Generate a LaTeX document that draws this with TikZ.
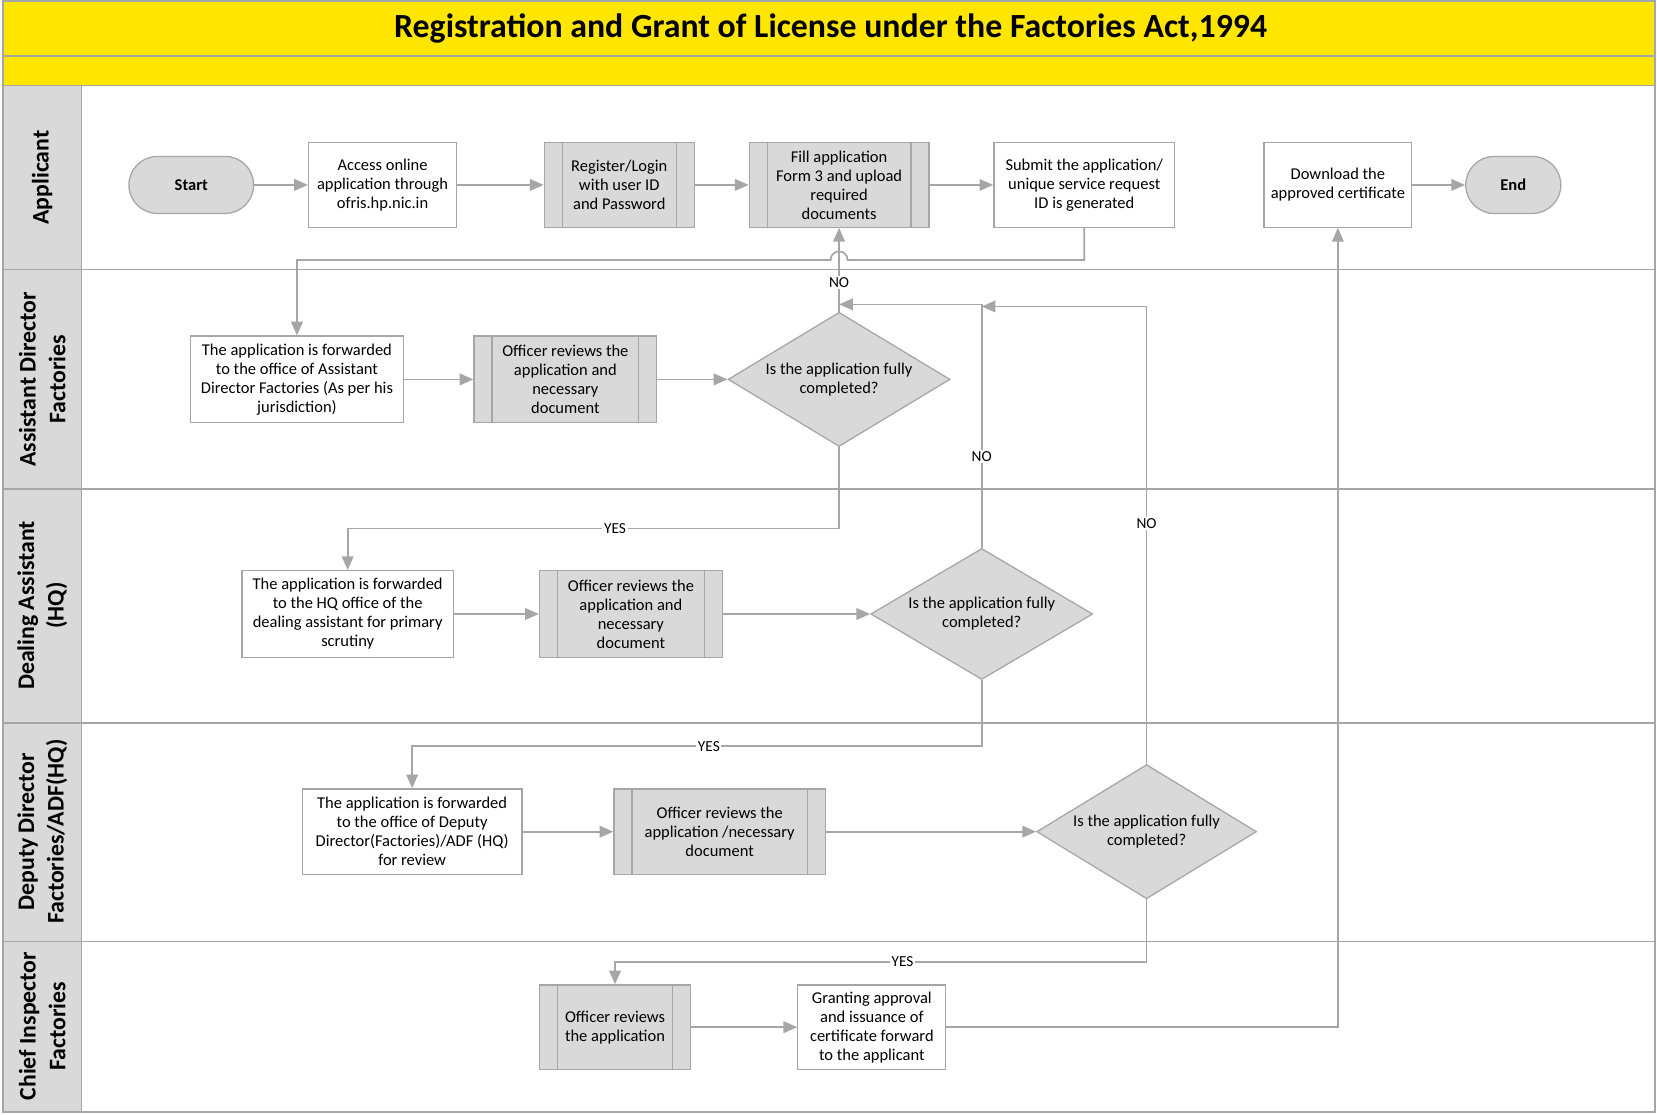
\documentclass[tikz,border=0pt]{standalone}
\usepackage{fontspec}
\setmainfont{Carlito}
\usetikzlibrary{arrows.meta,shapes.geometric}
\definecolor{ylw}{HTML}{FFE600}
\definecolor{lgray}{HTML}{A6A6A6}
\definecolor{bgray}{HTML}{A6A6A6}
\definecolor{pgray}{HTML}{D9D9D9}
\tikzset{
  frameline/.style={draw=lgray, line width=1.5pt},
  line/.style={draw=lgray, line width=1.6pt},
  conn/.style={line, -{Triangle[length=13pt,width=11pt]}},
  box/.style={draw=bgray, line width=1.2pt, fill=white, align=center, inner sep=0pt,
              font=\fontsize{15.6}{18}\selectfont},
  proc/.style={box, fill=pgray, path picture={
      \draw[draw=bgray, line width=1.2pt] ([xshift=17pt]path picture bounding box.north west) -- ([xshift=17pt]path picture bounding box.south west);
      \draw[draw=bgray, line width=1.2pt] ([xshift=-17pt]path picture bounding box.north east) -- ([xshift=-17pt]path picture bounding box.south east);}},
  term/.style={box, fill=pgray, rounded corners=27pt, font=\bfseries\fontsize{15.6}{18}\selectfont},
  dec/.style={diamond, draw=bgray, line width=1.2pt, fill=pgray, align=center, inner sep=0pt,
              shape aspect=1.65, font=\fontsize{15.6}{18}\selectfont},
  lbl/.style={fill=white, inner sep=1.5pt, font=\fontsize{14.5}{16}\selectfont},
  lane/.style={rotate=90, align=center, font=\bfseries\fontsize{22.5}{28}\selectfont},
}
\begin{document}
\begin{tikzpicture}[x=1pt,y=-1pt]
\useasboundingbox (0,0) rectangle (1568,1055);
\fill[white] (0,0) rectangle (1568,1055);
% title bands
\filldraw[fill=ylw, frameline] (3,1) rectangle (1566,81);
\draw[frameline] (3,53) -- (1566,53);
\node[font=\bfseries\fontsize{32}{36}\selectfont] (title) at (786,27) {Registration and Grant of License under the Factories Act,1994};
% lanes
\filldraw[fill=pgray, frameline] (3,81) rectangle (77,1052);
\draw[frameline] (3,81) rectangle (1566,1052);
\foreach \yy in {255,463,684,891} \draw[frameline] (3,\yy) -- (1566,\yy);
\node[lane] (l1) at (40,168) {Applicant};
\node[lane] (l2) at (40,359) {Assistant Director\\Factories};
\node[lane] (l3) at (40,573) {Dealing Assistant\\(HQ)};
\node[lane] (l4) at (40,787) {Deputy Director\\Factories/ADF(HQ)};
\node[lane] (l5) at (40,971) {Chief Inspector\\Factories};
% applicant lane
\node[term, minimum width=118pt, minimum height=54pt] (start) at (181,175) {Start};
\node[box, minimum width=140pt, minimum height=80pt] (access) at (362,175) {Access online\\application through\\ofris.hp.nic.in};
\node[proc, minimum width=142pt, minimum height=80pt] (register) at (586,175) {Register/Login\\with user ID\\and Password};
\node[proc, minimum width=170pt, minimum height=80pt] (fill) at (794,175) {Fill application\\Form 3 and upload\\required\\documents};
\node[box, minimum width=171pt, minimum height=80pt] (submit) at (1026,175) {Submit the application/\\unique service request\\ID is generated};
\node[box, minimum width=140pt, minimum height=80pt] (download) at (1266,175) {Download the\\approved certificate};
\node[term, minimum width=90pt, minimum height=54pt] (end) at (1432,175) {End};
% ADF lane
\node[box, minimum width=201pt, minimum height=82pt] (adf) at (281,359) {The application is forwarded\\to the office of Assistant\\Director Factories (As per his\\jurisdiction)};
\node[proc, minimum width=173pt, minimum height=82pt] (o1) at (535,359) {Officer reviews the\\application and\\necessary\\document};
\node[dec, minimum width=210pt, minimum height=127pt] (d1) at (794,359) {Is the application fully\\completed?};
% DA lane
\node[box, minimum width=200pt, minimum height=82pt] (da) at (329,581) {The application is forwarded\\to the HQ office of the\\dealing assistant for primary\\scrutiny};
\node[proc, minimum width=173pt, minimum height=82pt] (o2) at (597,581) {Officer reviews the\\application and\\necessary\\document};
\node[dec, minimum width=210pt, minimum height=124pt] (d2) at (929,581) {Is the application fully\\completed?};
% DD lane
\node[box, minimum width=208pt, minimum height=81pt] (dd) at (390,787) {The application is forwarded\\to the office of Deputy\\Director(Factories)/ADF (HQ)\\for review};
\node[proc, minimum width=200pt, minimum height=81pt] (o3) at (681,787) {Officer reviews the\\application /necessary\\document};
\node[dec, minimum width=208pt, minimum height=127pt] (d3) at (1085,787) {Is the application fully\\completed?};
% CIF lane
\node[proc, minimum width=143pt, minimum height=80pt] (o4) at (582,972) {Officer reviews\\the application};
\node[box, minimum width=140pt, minimum height=80pt] (grant) at (825,972) {Granting approval\\and issuance of\\certificate forward\\to the applicant};
% helper coordinates
\coordinate (jR) at (802,246);
\coordinate (jL) at (786,246);
\coordinate (h1) at (0,288);
\coordinate (h2) at (0,290);
\coordinate (y1) at (0,500);
\coordinate (y2) at (0,706);
\coordinate (y3) at (0,910);
\coordinate (g1) at (1266,972);
% connectors
\draw[conn] (start) -- (access);
\draw[conn] (access) -- (register);
\draw[conn] (register) -- (fill);
\draw[conn] (fill) -- (submit);
\draw[conn] (download) -- (end);
\draw[conn] (submit.south) |- (jR) .. controls (802,235.3) and (786,235.3) .. (jL) -| (adf.north);
\draw[conn] (adf) -- (o1);
\draw[conn] (o1) -- (d1);
\draw[conn] (d1.north) -- node[lbl, pos=0.35] {NO} (fill.south);
\draw[conn] (d1.south) -- (d1.south |- y1) -- node[lbl, pos=0.456] {YES} (da.north |- y1) -- (da.north);
\draw[conn] (da) -- (o2);
\draw[conn] (o2) -- (d2);
\draw[conn] (d2.north) -- node[lbl, pos=0.375] {NO} (d2.north |- h1) -- (d1.north |- h1);
\draw[conn] (d2.south) -- (d2.south |- y2) -- node[lbl, pos=0.479] {YES} (dd.north |- y2) -- (dd.north);
\draw[conn] (dd) -- (o3);
\draw[conn] (o3) -- (d3);
\draw[conn] (d3.north) -- node[lbl, pos=0.525] {NO} (d3.north |- h2) -- (d2.north |- h2);
\draw[conn] (d3.south) -- (d3.south |- y3) -- node[lbl, pos=0.459] {YES} (o4.north |- y3) -- (o4.north);
\draw[conn] (o4) -- (grant);
\draw[conn] (grant.east) -- (g1) -- (download.south);
\end{tikzpicture}
\end{document}
